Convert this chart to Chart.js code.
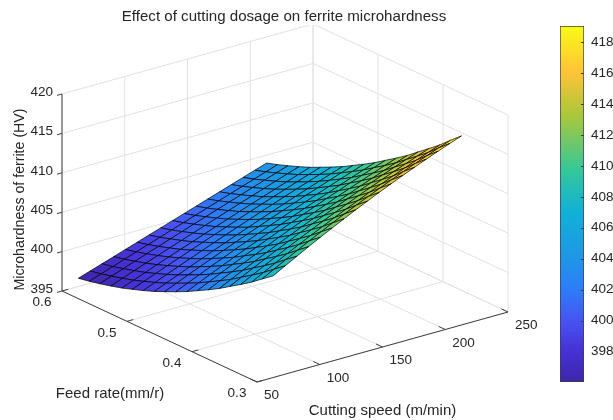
<!DOCTYPE html>
<html>
<head>
<meta charset="utf-8">
<title>Effect of cutting dosage on ferrite microhardness</title>
<script src="https://cdn.jsdelivr.net/npm/chart.js@4"></script>
<style>
  html, body { margin: 0; padding: 0; background: #fff; overflow: hidden; }
  #wrap { position: relative; width: 613px; height: 420px; filter: blur(0.35px); }
  #surface-chart { position: absolute; left: 0; top: 0; }
  #colorbar-chart { position: absolute; left: 555px; top: 0; }
</style>
</head>
<body>
<div id="wrap">
  <canvas id="surface-chart" width="568" height="420"></canvas>
  <canvas id="colorbar-chart" width="58" height="420"></canvas>
</div>
<script>
// mesh positions
const cuttingSpeed = [63, 72.4, 81.8, 91.1, 100.5, 109.9, 119.3, 128.6, 138, 147.4, 156.8, 166.1, 175.5, 184.9, 194.3, 203.6, 213];
const feedRate = [0.3, 0.317, 0.333, 0.35, 0.367, 0.383, 0.4, 0.417, 0.433, 0.45, 0.467, 0.483, 0.5, 0.517, 0.533, 0.55, 0.567, 0.583, 0.6];

// microhardness (HV), one row per feed rate, one column per cutting speed
const hardness = [
  [407.90,408.74,409.55,410.35,411.13,411.89,412.63,413.35,414.05,414.74,415.40,416.05,416.68,417.29,417.88,418.45,419.00],
  [406.85,407.67,408.47,409.24,410.01,410.75,411.48,412.19,412.88,413.55,414.21,414.85,415.47,416.07,416.66,417.23,417.78],
  [405.84,406.64,407.42,408.18,408.93,409.66,410.37,411.07,411.75,412.41,413.06,413.69,414.30,414.90,415.48,416.04,416.59],
  [404.88,405.66,406.42,407.17,407.90,408.62,409.32,410.00,410.67,411.32,411.96,412.58,413.19,413.78,414.35,414.91,415.46],
  [403.97,404.73,405.48,406.21,406.92,407.62,408.31,408.98,409.64,410.28,410.91,411.52,412.12,412.71,413.28,413.83,414.37],
  [403.10,403.84,404.57,405.28,405.98,406.67,407.34,408.00,408.65,409.28,409.90,410.50,411.10,411.68,412.24,412.79,413.33],
  [402.28,403.00,403.71,404.41,405.09,405.77,406.43,407.07,407.71,408.33,408.94,409.54,410.12,410.69,411.25,411.80,412.33],
  [401.51,402.21,402.91,403.59,404.26,404.91,405.56,406.19,406.82,407.43,408.03,408.62,409.19,409.76,410.32,410.86,411.39],
  [400.78,401.47,402.14,402.80,403.46,404.10,404.73,405.35,405.97,406.57,407.16,407.74,408.31,408.87,409.42,409.96,410.49],
  [400.10,400.77,401.42,402.07,402.71,403.34,403.96,404.57,405.17,405.76,406.34,406.91,407.47,408.03,408.57,409.11,409.63],
  [399.46,400.11,400.75,401.38,402.00,402.61,403.22,403.82,404.40,404.99,405.56,406.12,406.68,407.22,407.76,408.29,408.82],
  [398.87,399.50,400.12,400.73,401.34,401.94,402.53,403.12,403.69,404.27,404.83,405.38,405.93,406.47,407.01,407.53,408.05],
  [398.33,398.94,399.54,400.14,400.73,401.32,401.90,402.47,403.03,403.59,404.15,404.69,405.24,405.77,406.30,406.82,407.34],
  [397.83,398.42,399.01,399.59,400.16,400.73,401.30,401.86,402.41,402.96,403.51,404.05,404.58,405.11,405.63,406.15,406.66],
  [397.38,397.95,398.52,399.09,399.65,400.20,400.75,401.30,401.84,402.38,402.92,403.45,403.97,404.50,405.01,405.53,406.04],
  [396.98,397.54,398.09,398.63,399.18,399.72,400.26,400.79,401.32,401.85,402.38,402.90,403.42,403.93,404.45,404.96,405.46],
  [396.62,397.16,397.69,398.22,398.75,399.27,399.80,400.32,400.84,401.36,401.88,402.39,402.90,403.41,403.92,404.43,404.93],
  [396.31,396.83,397.34,397.86,398.37,398.88,399.39,399.90,400.41,400.92,401.43,401.93,402.44,402.94,403.44,403.95,404.45],
  [396.04,396.54,397.04,397.53,398.03,398.53,399.03,399.52,400.02,400.52,401.02,401.51,402.01,402.51,403.01,403.50,404.00]
];

// axis ticks
const speedTicks = [50, 100, 150, 200, 250];
const feedTicks = [0.3, 0.4, 0.5, 0.6];
const hardnessTicks = [395, 400, 405, 410, 415, 420];
const colorbarTicks = [398, 400, 402, 404, 406, 408, 410, 412, 414, 416, 418];
const colorRange = [396.04, 419.03];

const titleText = 'Effect of cutting dosage on ferrite microhardness';
const speedLabel = 'Cutting speed (m/min)';
const feedLabel = 'Feed rate(mm/r)';
const hardnessLabel = 'Microhardness of ferrite (HV)';

const TEXT = '#262626';
const AXIS = '#404040';
const GRID = '#e2e2e2';
const FONT = '"Liberation Sans", Arial, sans-serif';

// parula-like colormap
const colormap = [
  [0, 62, 38, 168], [0.09, 70, 50, 215], [0.17, 72, 82, 244], [0.26, 45, 125, 247],
  [0.35, 31, 150, 230], [0.48, 17, 177, 214], [0.6, 55, 200, 151], [0.75, 171, 199, 57],
  [0.87, 254, 195, 56], [1, 249, 251, 21]
];

function colorAt(t) {
  for (let i = 1; i < colormap.length; i++) {
    if (t <= colormap[i][0]) {
      const a = colormap[i - 1], b = colormap[i];
      const k = (t - a[0]) / (b[0] - a[0]);
      const c = [1, 2, 3].map(n => Math.round(a[n] + (b[n] - a[n]) * k));
      return `rgb(${c[0]},${c[1]},${c[2]})`;
    }
  }
  return 'rgb(249,251,21)';
}

// fixed oblique view of the 3d box, gives x/y on the flat scales below
function project(speed, feed, hv) {
  return {
    x: 257 + (speed - 50) * 1.255 - (feed - 0.3) * 650,
    y: 382 - (speed - 50) * 0.35 - (feed - 0.3) * 303.3 - (hv - 395) * 7.88
  };
}

function lineSet(points, color, width) {
  return { data: points, showLine: true, borderColor: color, borderWidth: width, pointRadius: 0, fill: false };
}

const datasets = [];

// surface cells
for (let j = 0; j < feedRate.length - 1; j++) {
  for (let i = 0; i < cuttingSpeed.length - 1; i++) {
    const corners = [[j, i], [j, i + 1], [j + 1, i + 1], [j + 1, i]];
    const mean = corners.reduce((s, c) => s + hardness[c[0]][c[1]], 0) / 4;
    const pts = corners.map(c => project(cuttingSpeed[c[1]], feedRate[c[0]], hardness[c[0]][c[1]]));
    pts.push(pts[0]);
    datasets.push({
      data: pts, showLine: true, pointRadius: 0, borderColor: '#000', borderWidth: 0.7,
      backgroundColor: colorAt((mean - colorRange[0]) / (colorRange[1] - colorRange[0])), fill: 'shape'
    });
  }
}

// axis lines and tick marks
const s0 = speedTicks[0], s1 = speedTicks[speedTicks.length - 1];
const f0 = feedTicks[0], f1 = feedTicks[feedTicks.length - 1];
const h0 = hardnessTicks[0], h1 = hardnessTicks[hardnessTicks.length - 1];

datasets.push(lineSet([project(s0, f1, h0), project(s0, f1, h1)], AXIS, 1));
datasets.push(lineSet([project(s0, f1, h0), project(s0, f0, h0)], AXIS, 1));
datasets.push(lineSet([project(s0, f0, h0), project(s1, f0, h0)], AXIS, 1));
speedTicks.forEach(s => datasets.push(lineSet([project(s, f0, h0), project(s, f0 + 0.01, h0)], AXIS, 1)));
feedTicks.forEach(f => datasets.push(lineSet([project(s0, f, h0), project(s0 + 5, f, h0)], AXIS, 1)));
hardnessTicks.forEach(h => datasets.push(lineSet([project(s0, f1, h), project(s0 - 4, f1, h)], AXIS, 1)));

// grid on the floor and the two back walls
speedTicks.forEach(s => {
  datasets.push(lineSet([project(s, f0, h0), project(s, f1, h0), project(s, f1, h1)], GRID, 1));
});
feedTicks.forEach(f => {
  datasets.push(lineSet([project(s0, f, h0), project(s1, f, h0), project(s1, f, h1)], GRID, 1));
});
hardnessTicks.forEach(h => {
  datasets.push(lineSet([project(s0, f1, h), project(s1, f1, h), project(s1, f0, h)], GRID, 1));
});

const axisText = {
  id: 'axisText',
  afterDraw(chart) {
    const { ctx, scales: { x, y } } = chart;
    const put = (text, p, dx, dy, align) => {
      ctx.textAlign = align;
      ctx.fillText(text, x.getPixelForValue(p.x) + dx, y.getPixelForValue(p.y) + dy);
    };
    ctx.save();
    ctx.fillStyle = TEXT;
    ctx.textBaseline = 'middle';
    ctx.font = `13.5px ${FONT}`;
    hardnessTicks.forEach(h => put(String(h), project(s0, f1, h), -9, -2, 'right'));
    feedTicks.forEach(f => put(f.toFixed(1), project(s0, f, h0), -20, 11.5, 'center'));
    speedTicks.forEach(s => put(String(s), project(s, f0, h0), 7, 13.5, 'left'));
    ctx.font = `15px ${FONT}`;
    put(feedLabel, project(s0, (f0 + f1) / 2, h0), -49.5, 57.5, 'center');
    put(speedLabel, project((s0 + s1) / 2, f0, h0), 0, 64, 'center');
    ctx.font = `14.2px ${FONT}`;
    const mid = project(s0, f1, (h0 + h1) / 2);
    ctx.translate(x.getPixelForValue(mid.x) - 42, y.getPixelForValue(mid.y) + 7);
    ctx.rotate(-Math.PI / 2);
    ctx.textAlign = 'center';
    ctx.fillText(hardnessLabel, 0, 0);
    ctx.restore();
  }
};

new Chart(document.getElementById('surface-chart'), {
  type: 'scatter',
  data: { datasets },
  plugins: [axisText],
  options: {
    responsive: false,
    animation: false,
    events: [],
    layout: { padding: 0 },
    scales: {
      x: { type: 'linear', display: false, min: 0, max: 568 },
      y: { type: 'linear', display: false, min: 25, max: 420, reverse: true }
    },
    plugins: {
      legend: { display: false },
      tooltip: { enabled: false },
      title: {
        display: true,
        text: titleText,
        color: TEXT,
        font: { family: FONT, size: 15.1, weight: 'normal', lineHeight: '16px' },
        padding: { top: 9, bottom: 0 }
      }
    }
  }
});

// colour bar, a single floating bar with the colormap as gradient
const insideTicks = {
  id: 'insideTicks',
  afterDraw(chart) {
    const { ctx, chartArea, scales: { y } } = chart;
    ctx.save();
    ctx.strokeStyle = AXIS;
    ctx.lineWidth = 1;
    colorbarTicks.forEach(v => {
      const py = Math.round(y.getPixelForValue(v)) + 0.5;
      ctx.beginPath();
      ctx.moveTo(chartArea.right, py);
      ctx.lineTo(chartArea.right - 3, py);
      ctx.stroke();
    });
    ctx.restore();
  }
};

new Chart(document.getElementById('colorbar-chart'), {
  type: 'bar',
  data: {
    labels: [''],
    datasets: [{
      data: [colorRange],
      barPercentage: 1,
      categoryPercentage: 1,
      borderWidth: 1,
      borderColor: '#3c3c50',
      borderSkipped: false,
      backgroundColor(c) {
        const area = c.chart.chartArea;
        if (!area) return '#888';
        const g = c.chart.ctx.createLinearGradient(0, area.bottom, 0, area.top);
        colormap.forEach(s => g.addColorStop(s[0], colorAt(Math.max(s[0], 0.0001))));
        return g;
      }
    }]
  },
  plugins: [insideTicks],
  options: {
    responsive: false,
    animation: false,
    events: [],
    layout: { padding: { left: 5, top: 26, bottom: 38, right: 0 } },
    scales: {
      x: { display: false },
      y: {
        position: 'right',
        min: colorRange[0],
        max: colorRange[1],
        afterBuildTicks(scale) { scale.ticks = colorbarTicks.map(value => ({ value })); },
        afterFit(scale) { scale.width = 29; },
        grid: { display: false, drawTicks: false },
        border: { display: false },
        ticks: { color: TEXT, padding: 7, font: { family: FONT, size: 13.5 }, autoSkip: false }
      }
    },
    plugins: { legend: { display: false }, tooltip: { enabled: false } }
  }
});
</script>
</body>
</html>
